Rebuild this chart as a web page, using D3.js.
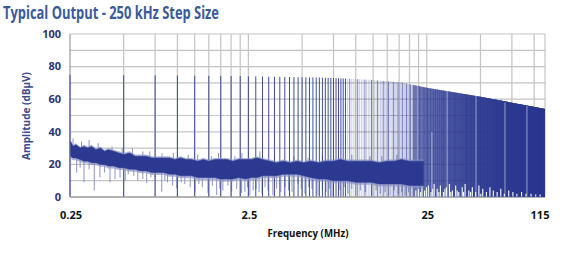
<!DOCTYPE html>
<html>
<head>
<meta charset="utf-8">
<script src="https://cdn.jsdelivr.net/npm/d3@7"></script>
<style>
  body { margin: 0; background: #fff; }
  svg { display: block; }
  text { font-family: "Open Sans", "Noto Sans", sans-serif; }
</style>
</head>
<body>
<div id="chart"></div>
<script>
// harmonics every 250 kHz, up to 115 MHz
const stepMHz = 0.25;
const harmonicCount = 460;

// peak envelope of the harmonic comb
const envMHz = [0.25, 1, 3, 7, 12, 18, 25, 50, 115];
const envDb  = [75, 74.5, 74, 73.2, 72, 70.2, 67, 61.5, 54];

// white gaps at the bottom of the dense comb
const gapMHz = [21.7, 22.5, 23.1, 23.5, 24.3, 24.9, 25.5, 26.4, 27, 27.5, 28.6, 29.2, 29.8, 31, 31.6, 32.2, 33.5, 34.1,
  34.8, 36.3, 37, 37.8, 39.5, 40.2, 41, 43, 44, 45, 47, 49, 50.2, 51.5, 54, 56.5, 59, 62, 65, 68, 72, 76, 80, 85, 90,
  96, 102, 108];
const gapDb = [4, 5, 3, 8, 4, 6, 7, 3, 5, 8, 5, 3, 7, 3, 5, 6, 8, 3,
  4, 7, 4, 3, 6, 3, 8, 4, 3, 6, 3, 7, 2, 5, 3, 6, 4, 3, 5, 2, 4, 3, 2, 3, 2,
  2, 1.5, 1.5];

// pale streaks across the dense comb
const streakMHz = [15.6, 22.3, 26.7, 32.5, 47.2, 68.6, 91.1];
const streakDb = [40, 68, 40, 66, 62, 58, 56];

// noise floor band: upper and lower edge of the dark trace
const noiseMHz = [0.252, 0.26, 0.27, 0.285, 0.30, 0.315, 0.33, 0.35, 0.37, 0.39, 0.41, 0.44, 0.47, 0.50, 0.54, 0.58,
  0.62, 0.67, 0.72, 0.78, 0.84, 0.9, 0.97, 1.04, 1.12, 1.2, 1.3, 1.4, 1.5, 1.62, 1.75, 1.9, 2.05, 2.2, 2.4, 2.6, 2.8,
  3.0, 3.3, 3.6, 3.9, 4.3, 4.7, 5.1, 5.6, 6.2, 6.8, 7.5, 8.2, 9, 10, 11, 12.2, 13.5, 15, 16.5, 18, 20, 22, 24];
const noiseHiDb = [34, 31, 32, 30, 31, 30, 31, 29, 30, 28, 29, 28, 27, 26, 27, 25,
  25, 25, 24, 24, 24, 24, 23, 24, 23, 23, 22, 23, 22, 23, 23, 23, 22, 23, 23, 23, 24,
  23, 22, 21, 22, 21, 22, 21, 22, 21, 22, 22, 23, 22, 22, 22, 22, 21, 22, 22, 23, 22, 22, 22];
const noiseLoDb = [25, 24, 24, 23, 22, 22, 21, 21, 20, 20, 19, 19, 18, 18, 17, 17,
  16, 16, 15, 15, 15, 14, 14, 13, 13, 13, 12, 12, 12, 12, 11, 11, 11, 12, 11, 12, 12,
  13, 13, 13, 14, 14, 14, 13, 12, 11, 11, 10, 10, 10, 9, 9, 9, 8, 8, 8, 8, 7, 7, 7];

// light upward spikes above the noise band
const spikeMHz = [0.26, 0.29, 0.32, 0.36, 0.43, 0.49, 0.56, 0.64, 0.7, 0.82, 0.95, 1.15, 1.3, 1.55, 1.7, 2.1, 2.3,
  2.9, 3.5, 4.5, 5.4, 6.5, 8, 9.5, 12, 14, 17];
const spikeDb = [36, 34, 35, 33, 31, 30, 30, 28, 28, 27, 27, 26, 26, 25, 27, 25, 27,
  28, 25, 25, 24, 26, 25, 26, 25, 25, 26];

// light downward spikes below the noise band
const dipMHz = [0.2725, 0.285, 0.2995, 0.32, 0.342, 0.368, 0.39, 0.419, 0.447, 0.477, 0.51, 0.53, 0.57, 0.6, 0.64,
  0.673, 0.71, 0.75, 0.817, 0.85, 0.88, 0.94, 0.991, 1.05, 1.1, 1.18, 1.255, 1.32, 1.38, 1.484, 1.57, 1.66, 1.73, 1.8,
  1.92, 2.016, 2.15, 2.29, 2.39, 2.47, 2.55, 2.66, 2.76, 2.87, 2.98, 3.1, 3.22, 3.43, 3.6, 3.8, 4.01, 4.2, 4.39, 4.74,
  4.95, 5.19, 5.45, 5.68, 6.14, 6.5, 6.81, 7.1, 7.45, 8.15, 8.6, 9.04, 9.5, 10.0, 10.6, 11.3, 12.3, 13.0, 13.7, 14.6,
  15.6, 16.4, 17.3, 18.1, 18.9, 19.8];
const dipDb = [15, 18, 9, 17, 4, 12, 15, 9, 11, 12, 10, 14, 13, 10, 11,
  8.6, 12, 12, 3.3, 10, 9, 7, 5.3, 9, 8, 6, 3.3, 8, 6, 2.5, 7, 1.2, 5, 4,
  7, 3.3, 5, 2.5, 3, 6, 1, 4, 5, 3, 2, 6, 4, 1, 5, 3, 6, 4, 3, 8,
  5, 2, 6, 5, 1, 4, 3, 5, 0.5, 4, 6, 2, 5, 1, 4, 3, 1, 4, 2, 3,
  1, 4, 2, 3, 1, 3];

// axes
const gridMHz = [0.5, 0.75, 1, 1.25, 1.5, 1.75, 2, 2.25, 2.5, 5, 7.5, 10, 12.5, 15, 17.5, 20, 22.5, 25, 50, 75, 100];
const xLabels = ["0.25", "2.5", "25", "115"];
const yTicks = [0, 20, 40, 60, 80, 100];
const yGrid = [10, 20, 30, 40, 50, 60, 70, 80, 90];

const width = 563, height = 260;
const margin = {top: 34, right: 18, bottom: 63, left: 70};

const svg = d3.select("#chart").append("svg")
    .attr("width", width)
    .attr("height", height);

const x = d3.scaleLog()
    .domain([0.25, 115])
    .range([margin.left, width - margin.right]);

const y = d3.scaleLinear()
    .domain([0, 100])
    .range([height - margin.bottom, margin.top]);

const blue = "#2b3990";
const lilac = "#8b93c6";

// title
svg.append("text")
    .attr("x", 3)
    .attr("y", 19)
    .attr("font-size", 17)
    .attr("font-weight", 700)
    .attr("fill", "#3a5a9b")
    .attr("textLength", 216)
    .attr("lengthAdjust", "spacingAndGlyphs")
    .text("Typical Output - 250 kHz Step Size");

// grid
svg.append("g")
    .selectAll("line")
    .data(yGrid.concat([100]))
    .join("line")
    .attr("x1", x.range()[0])
    .attr("x2", x.range()[1])
    .attr("y1", d => y(d))
    .attr("y2", d => y(d))
    .attr("stroke", "#c4c4c4")
    .attr("stroke-width", 1.2);

svg.append("g")
    .selectAll("line")
    .data(gridMHz.concat([115]))
    .join("line")
    .attr("x1", d => x(d))
    .attr("x2", d => x(d))
    .attr("y1", y(0))
    .attr("y2", y(100))
    .attr("stroke", "#c4c4c4")
    .attr("stroke-width", 1.2);

// frame (under the trace so the first harmonic stays visible)
svg.append("line")
    .attr("x1", x.range()[0]).attr("x2", x.range()[0])
    .attr("y1", y(0)).attr("y2", y(100))
    .attr("stroke", "#9a9a9a").attr("stroke-width", 1.2);
svg.append("line")
    .attr("x1", x.range()[0]).attr("x2", x.range()[1])
    .attr("y1", y(0)).attr("y2", y(0))
    .attr("stroke", "#9a9a9a").attr("stroke-width", 1.5);

// light spikes, drawn from the noise band outward
const nearest = (f, arr) => arr[d3.leastIndex(noiseMHz, m => Math.abs(Math.log(m / f)))];

svg.append("g")
    .selectAll("line")
    .data(dipMHz.map((m, i) => ({m, db: dipDb[i]})))
    .join("line")
    .attr("x1", d => x(d.m))
    .attr("x2", d => x(d.m))
    .attr("y1", d => y(d.db))
    .attr("y2", d => y(nearest(d.m, noiseLoDb) + 3))
    .attr("stroke", lilac)
    .attr("stroke-width", 1);

svg.append("g")
    .selectAll("line")
    .data(spikeMHz.map((m, i) => ({m, db: spikeDb[i]})))
    .join("line")
    .attr("x1", d => x(d.m))
    .attr("x2", d => x(d.m))
    .attr("y1", d => y(d.db))
    .attr("y2", d => y(nearest(d.m, noiseHiDb) - 3))
    .attr("stroke", lilac)
    .attr("stroke-width", 1);

// harmonic comb, clipped to the envelope
const line = d3.line();
const topPts = envMHz.map((m, i) => [x(m) - (i === 0 ? 1 : 0), y(envDb[i])]);
const botPts = [[x(115), y(0.3)], [x(0.25) - 1, y(0.3)]];

svg.append("clipPath")
    .attr("id", "comb-clip")
    .append("path")
    .attr("d", line(topPts.concat(botPts)) + "Z");

const harmonics = d3.range(1, harmonicCount + 1).map(k => k * stepMHz);

const comb = svg.append("g")
    .attr("clip-path", "url(#comb-clip)");

comb.selectAll("line")
    .data(harmonics)
    .join("line")
    .attr("x1", d => x(d))
    .attr("x2", d => x(d))
    .attr("y1", y(0))
    .attr("y2", y(100))
    .attr("stroke", blue)
    .attr("stroke-width", d => d < 9 ? 0.9 : 0.8)
    // thin lines of the 9–21 MHz stretch blur to a pale lilac in the print
    .attr("stroke-opacity", (d, i) => (d >= 9 && d < 21) ? (i % 4 === 0 ? 0.8 : 0.3) : 1);

// pale streaks and white gaps across the dense comb
comb.append("g")
    .selectAll("line")
    .data(streakMHz.map((m, i) => ({m, db: streakDb[i]})))
    .join("line")
    .attr("x1", d => x(d.m))
    .attr("x2", d => x(d.m))
    .attr("y1", y(0))
    .attr("y2", d => y(d.db))
    .attr("stroke", "#fff")
    .attr("stroke-opacity", 0.5)
    .attr("stroke-width", 1);

svg.append("g")
    .selectAll("line")
    .data(gapMHz.map((m, i) => ({m, db: gapDb[i]})))
    .join("line")
    .attr("x1", d => x(d.m))
    .attr("x2", d => x(d.m))
    .attr("y1", y(0.3))
    .attr("y2", d => y(d.db))
    .attr("stroke", "#fff")
    .attr("stroke-width", 1.1);

// noise band: pale halo then dark core
const halo = d3.area()
    .x((d, i) => x(noiseMHz[i]))
    .y0((d, i) => y(noiseLoDb[i] - 1.5))
    .y1((d, i) => y(noiseHiDb[i] + 1));

svg.append("path")
    .datum(noiseMHz)
    .attr("d", halo)
    .attr("fill", lilac)
    .attr("fill-opacity", 0.7);

const area = d3.area()
    .x((d, i) => x(noiseMHz[i]))
    .y0((d, i) => y(noiseLoDb[i]))
    .y1((d, i) => y(noiseHiDb[i]));

svg.append("path")
    .datum(noiseMHz)
    .attr("d", area)
    .attr("fill", blue)
    .attr("stroke", blue)
    .attr("stroke-width", 0.5);

// y tick labels
svg.append("g")
    .selectAll("text")
    .data(yTicks)
    .join("text")
    .attr("x", 61)
    .attr("y", d => y(d))
    .attr("dy", "0.35em")
    .attr("text-anchor", "end")
    .attr("font-size", 11)
    .attr("font-weight", 700)
    .attr("fill", "#2d3472")
    .text(d => d);

// x tick labels
svg.append("g")
    .selectAll("text")
    .data(xLabels)
    .join("text")
    .attr("x", d => d === "115" ? x(+d) - 5 : x(+d) + 1)
    .attr("y", 219)
    .attr("text-anchor", "middle")
    .attr("font-size", 11)
    .attr("font-weight", 700)
    .attr("fill", "#111")
    .text(d => d);

// axis titles
svg.append("text")
    .attr("x", 308)
    .attr("y", 237)
    .attr("text-anchor", "middle")
    .attr("font-size", 10.5)
    .attr("font-weight", 700)
    .attr("fill", "#111")
    .attr("textLength", 81)
    .attr("lengthAdjust", "spacingAndGlyphs")
    .text("Frequency (MHz)");

svg.append("text")
    .attr("transform", "translate(30,116) rotate(-90)")
    .attr("text-anchor", "middle")
    .attr("font-size", 11)
    .attr("font-weight", 700)
    .attr("fill", "#3a4a8c")
    .attr("textLength", 88)
    .attr("lengthAdjust", "spacingAndGlyphs")
    .text("Amplitude (dBµV)");
</script>
</body>
</html>
